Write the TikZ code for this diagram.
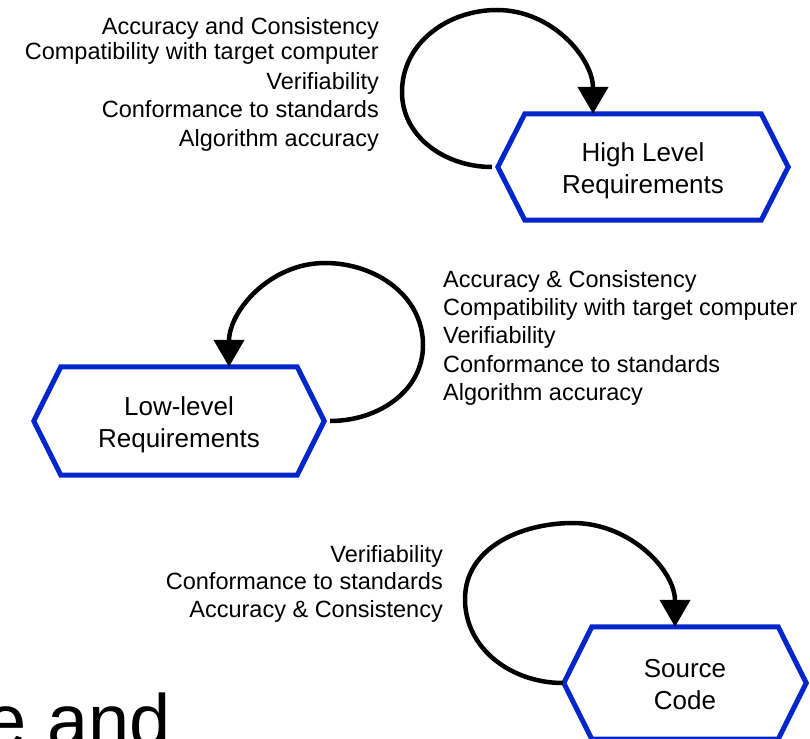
\documentclass[tikz,border=0pt]{standalone}
\usepackage{fontspec}
\setmainfont{Liberation Sans}
\usetikzlibrary{arrows.meta,calc}
\definecolor{hexblue}{RGB}{0,38,204}
\tikzset{
  hexbox/.style={inner sep=0pt, align=center, font=\fontsize{26}{31.2}\selectfont},
  hexline/.style={draw=hexblue, line width=5pt, line join=miter},
  loopline/.style={draw=black, line width=4.5pt, -{Triangle[width=30pt,length=27pt]}},
  lbl/.style={inner sep=0pt, font=\fontsize{23.5}{28.2}\selectfont},
  lblr/.style={lbl, anchor=base east},
  lbll/.style={lbl, anchor=base west},
}
\newcommand{\toprule}{\rule{0pt}{27pt}}
\newcommand{\botrule}{\rule[-6pt]{0pt}{6pt}}
\begin{document}
\begin{tikzpicture}[x=1pt,y=-1pt]
\useasboundingbox (0,0) rectangle (810,738);

% hexagon nodes
\node[hexbox, minimum width=236pt, minimum height=106pt] (hl) at (643,167) {\toprule High Level\\Requirements\botrule};
\node[hexbox, minimum width=236pt, minimum height=108pt] (ll) at (179,421) {\toprule Low-level\\Requirements\botrule};
\node[hexbox, minimum width=186pt, minimum height=112pt] (sc) at (685,683) {\toprule Source\\Code\botrule};

\draw[hexline] (hl.north west) -- (hl.north east) -- ([xshift=27pt]hl.east) -- (hl.south east) -- (hl.south west) -- ([xshift=-27pt]hl.west) -- cycle;
\draw[hexline] (ll.north west) -- (ll.north east) -- ([xshift=27pt]ll.east) -- (ll.south east) -- (ll.south west) -- ([xshift=-27pt]ll.west) -- cycle;
\draw[hexline] (sc.north west) -- (sc.north east) -- ([xshift=28pt]sc.east) -- (sc.south east) -- (sc.south west) -- ([xshift=-28pt]sc.west) -- cycle;

% self loops
\draw[loopline] ([xshift=-33pt]hl.west) to[out=180,in=270] (402,92) to[out=90,in=180] (497,10) to[out=0,in=90] ([xshift=-50pt]hl.north);
\draw[loopline] ([xshift=33pt]ll.east) to[out=0,in=270] (423,345) to[out=90,in=0] (325,263) to[out=180,in=90] ([xshift=50pt]ll.north);
\draw[loopline] ([xshift=-29pt]sc.west) to[out=180,in=270] (465,599) to[out=90,in=180] (573,523) to[out=0,in=90] ([xshift=-10pt]sc.north);

% labels for high level
\node[lblr] (h1) at (379,35) {Accuracy and Consistency};
\node[lblr] (h2) at (379,60) {Compatibility with target computer};
\node[lblr] (h3) at (379,90) {Verifiability};
\node[lblr] (h4) at (379,118) {Conformance to standards};
\node[lblr] (h5) at (379,147) {Algorithm accuracy};

% labels for low level
\node[lbll] (l1) at (443,287) {Accuracy \& Consistency};
\node[lbll] (l2) at (443,315) {Compatibility with target computer};
\node[lbll] (l3) at (443,343) {Verifiability};
\node[lbll] (l4) at (443,372) {Conformance to standards};
\node[lbll] (l5) at (443,400) {Algorithm accuracy};

% labels for source code
\node[lblr] (s1) at (443,562) {Verifiability};
\node[lblr] (s2) at (443,589) {Conformance to standards};
\node[lblr] (s3) at (443,617) {Accuracy \& Consistency};

% clipped title fragment
\node[inner sep=0pt, anchor=base east, font=\fontsize{74}{88}\selectfont] (title) at (171,746) {e and};
\end{tikzpicture}
\end{document}
